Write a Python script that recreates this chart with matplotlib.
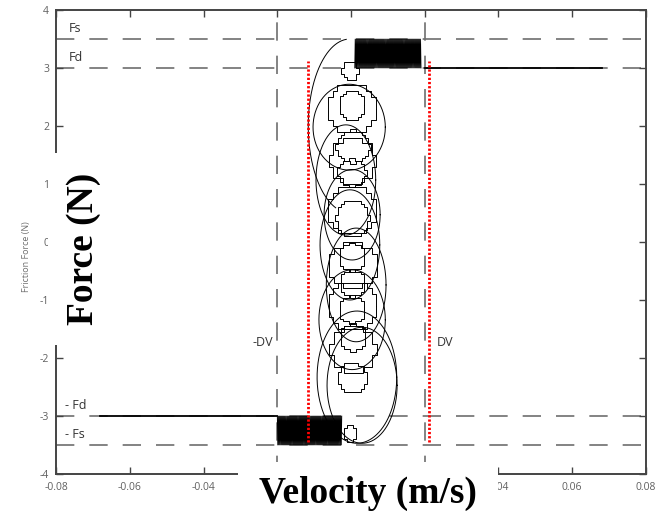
import numpy as np
import matplotlib.pyplot as plt
from matplotlib.patches import Rectangle

plt.rcParams['axes.unicode_minus'] = False
plt.rcParams['font.family'] = ['Open Sans', 'DejaVu Sans']

# friction levels (N) and velocity threshold (m/s)
Fs = 3.5
Fd = 3.0
DV = 0.02

# sliding segments at +/- Fd
slip_pos = [0.02, 0.068]
slip_neg = [-0.068, -0.02]
# stick-slip chatter bands between Fd and Fs
band_pos = [0.001, 0.019]
band_neg = [-0.02, -0.0025]
band_cycles = 70

# smooth orbits: centre velocity, centre force, half widths
orbit_v = [-0.0005, -0.0014, 0.0003, -0.0003, 0.0014, 0.0003, 0.0016, 0.003]
orbit_f = [1.98, 1.07, 0.47, -0.05, -0.74, -1.34, -2.33, -2.47]
orbit_rv = [0.0098, 0.0081, 0.0076, 0.0081, 0.0081, 0.009, 0.0108, 0.0095]
orbit_rf = [0.74, 0.95, 0.78, 0.95, 0.98, 0.86, 1.14, 1.0]

# first swing out of the upper band
swing_v, swing_f, swing_rv, swing_rf = -0.0003, 2.0, 0.0113, 1.5
swing_deg = [95, 250]

# quantised inner loops (narrow)
inner_v = [0.0003, 0.0005, 0.0003, 0.0004, 0.0002, 0.0004, 0.0003, 0.0005, 0.0004, -0.0003, -0.0002]
inner_f = [2.36, 1.64, 1.19, 0.41, -0.26, -0.71, -1.17, -1.64, -2.34, 2.95, -3.3]
inner_rv = [0.0034, 0.0045, 0.0038, 0.0045, 0.0036, 0.0036, 0.0036, 0.0036, 0.0040, 0.0022, 0.0018]
inner_rf = [0.26, 0.28, 0.23, 0.32, 0.23, 0.23, 0.23, 0.23, 0.26, 0.15, 0.14]

# quantised inner loops (wide, flat topped)
wide_v = [0.0002, 0.0004, 0.0003, 0.0005, 0.0004, 0.0006]
wide_f = [2.3, 1.4, 0.55, -0.4, -1.1, -1.85]
wide_rv = [0.0066, 0.0062, 0.0066, 0.0064, 0.0068, 0.0062]
wide_rf = [0.42, 0.4, 0.42, 0.4, 0.42, 0.4]

# markers for the measured stick window
marker_v = [-0.0116, 0.0212]
marker_f = [-3.44, 3.12]

xtick_vals = [-0.08, -0.06, -0.04, -0.02, 0, 0.02, 0.04, 0.06, 0.08]
xtick_text = ['-0.08', '-0.06', '-0.04', '', '', '', '0.04', '0.06', '0.08']


def ellipse(cv, cf, rv, rf, t0=0.0, t1=2 * np.pi, n=300):
    t = np.linspace(t0, t1, n)
    return cv + rv * np.cos(t), cf + rf * np.sin(t)


def stepped(cv, cf, rv, rf, dv, df):
    v, f = ellipse(cv, cf, rv, rf, n=400)
    v = np.round((v - cv) / dv) * dv + cv
    f = np.round((f - cf) / df) * df + cf
    return v, f


def chatter(v0, v1, lo, hi, n):
    v = np.linspace(v0, v1, 2 * n + 1)
    f = np.where(np.arange(v.size) % 2 == 0, lo, hi)
    return v, f


fig = plt.figure(figsize=(6.67, 5.11), dpi=100)
ax = fig.add_axes([0.084, 0.0724, 0.8845, 0.908])

grey = '#6e6e6e'
dash = (0, (11, 9))
for y in [Fs, Fd, -Fd, -Fs]:
    ax.axhline(y, color=grey, lw=1.2, ls=dash, zorder=1)
for x in [-DV, DV]:
    ax.axvline(x, color=grey, lw=1.2, ls=dash, zorder=1)

lc = dict(color='black', lw=0.7, zorder=3)

ax.plot(slip_pos, [Fd, Fd], color='black', lw=1.3, zorder=3)
ax.plot(slip_neg, [-Fd, -Fd], color='black', lw=1.3, zorder=3)

v, f = chatter(band_pos[0], band_pos[1], Fd, Fs, band_cycles)
ax.plot(v, f, color='black', lw=0.55, zorder=3)
v, f = chatter(band_neg[0], band_neg[1], -Fd, -Fs, band_cycles)
ax.plot(v, f, color='black', lw=0.55, zorder=3)

for cv, cf, rv, rf in zip(orbit_v, orbit_f, orbit_rv, orbit_rf):
    ax.plot(*ellipse(cv, cf, rv, rf), **lc)

v, f = ellipse(swing_v, swing_f, swing_rv, swing_rf,
               np.radians(swing_deg[0]), np.radians(swing_deg[1]))
ax.plot(v, f, **lc)

for cv, cf, rv, rf in zip(inner_v, inner_f, inner_rv, inner_rf):
    v, f = stepped(cv, cf, rv, rf, 0.0008, 0.05)
    ax.plot(v, f, drawstyle='steps-post', **lc)

for cv, cf, rv, rf in zip(wide_v, wide_f, wide_rv, wide_rf):
    v, f = stepped(cv, cf, rv, rf, 0.0013, 0.1)
    ax.plot(v, f, drawstyle='steps-post', **lc)

for mv in marker_v:
    ax.plot([mv, mv], marker_f, color='#ff0000', lw=2.0, ls=(0, (0.8, 0.7)), zorder=4)

# level labels
txt = dict(fontsize=9, color='#333333')
ax.text(-0.0765, 3.62, 'Fs', **txt)
ax.text(-0.0765, 3.12, 'Fd', **txt)
ax.text(-0.0775, -2.88, '- Fd', **txt)
ax.text(-0.0775, -3.38, '- Fs', **txt)
ax.text(-0.0212, -1.8, '-DV', ha='right', **txt)
ax.text(0.0233, -1.8, 'DV', **txt)

ax.set_xlim(-0.08, 0.08)
ax.set_ylim(-4, 4)
ax.set_xticks(xtick_vals)
ax.set_xticklabels(xtick_text)
ax.set_yticks(np.arange(-4, 5))
ax.tick_params(direction='in', length=5, width=1.0, color='#444444',
               labelcolor='#606060', labelsize=7.5, top=True, right=True)
ax.tick_params(axis='x', pad=6)
ax.tick_params(axis='y', pad=5)
for s in ax.spines.values():
    s.set_color('#444444')
    s.set_linewidth(1.4)

fig.text(27 / 667, 1 - 257 / 511, 'Friction Force (N)', rotation=90,
         ha='center', va='center', fontsize=6.5, color='#707070')

# white panels behind the large axis titles
fig.patches.append(Rectangle((47.5 / 667, 1 - 345 / 511), 53 / 667, 192 / 511,
                             transform=fig.transFigure, facecolor='white',
                             edgecolor='none', zorder=5))
fig.patches.append(Rectangle((238 / 667, 0), 260 / 667, 1 - 462 / 511,
                             transform=fig.transFigure, facecolor='white',
                             edgecolor='none', zorder=5))

big = dict(family='Liberation Serif', fontweight='bold', fontsize=27,
           color='black', zorder=6)
fig.text(368 / 667, 1 - 503 / 511, 'Velocity (m/s)', ha='center',
         va='baseline', **big)
fig.text(93 / 667, 1 - 249 / 511, 'Force (N)', rotation=90,
         rotation_mode='anchor', ha='center', va='baseline', **big)

fig.savefig('out.png', dpi=100)
